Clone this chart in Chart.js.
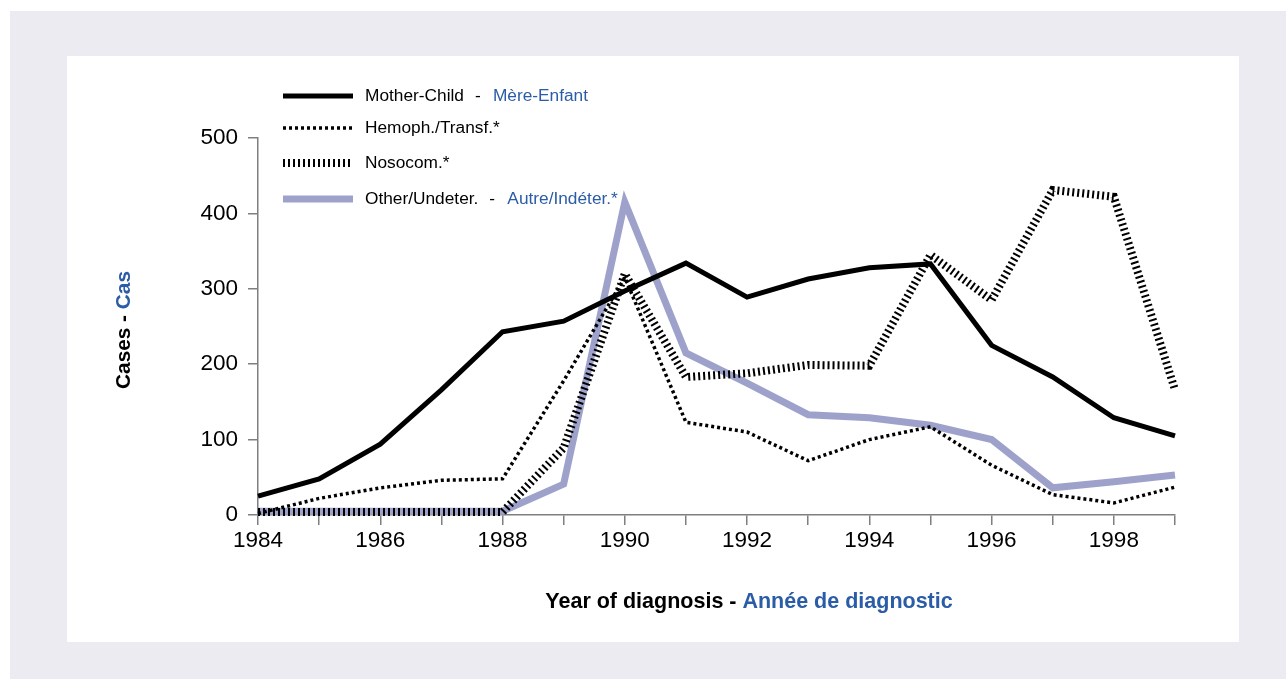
<!DOCTYPE html>
<html>
<head>
<meta charset="utf-8">
<script src="https://cdn.jsdelivr.net/npm/chart.js@4/dist/chart.umd.min.js"></script>
<style>
  body { margin: 0; background: #fff; overflow: hidden; }
  .frame { position: absolute; left: 10px; top: 11px; right: 0; bottom: 0; background: #ecebf1; }
  .panel { position: absolute; left: 67px; top: 56px; width: 1172px; height: 586px; background: #fff; }
  #chart { position: absolute; left: 0; top: 0; }
</style>
</head>
<body>
<div class="frame"></div>
<div class="panel"></div>
<canvas id="chart" width="1286" height="679"></canvas>
<script>
// Data
const years = ['1984','1985','1986','1987','1988','1989','1990','1991','1992','1993','1994','1995','1996','1997','1998','1999'];
const xTickLabels = ['1984','','1986','','1988','','1990','','1992','','1994','','1996','','1998',''];
const yTicks = [0, 100, 200, 300, 400, 500];

const motherChild = [25, 48, 94, 166, 243, 257, 297, 334, 289, 313, 328, 333, 225, 183, 129, 105];
const hemophTransf = [2, 22, 36, 46, 48, 178, 315, 123, 110, 72, 100, 117, 66, 27, 16, 37];
const nosocom = [4, 4, 4, 4, 4, 89, 320, 183, 188, 199, 198, 345, 285, 431, 422, 166];
const otherUndet = [5, 5, 5, 5, 5, 41, 415, 215, 175, 133, 129, 119, 100, 36, 44, 53];

const BLUE = '#2b5ca6';
const LAVENDER = '#9ea2cb';
const AXIS = '#7f7f7f';
const FONT = "'Liberation Sans', Arial, sans-serif";

// Legend entries: black text, blue text, line style
const legendItems = [
    { en: 'Mother-Child', fr: 'Mère-Enfant', color: '#000', width: 5, dash: [] },
    { en: 'Hemoph./Transf.*', fr: '', color: '#000', width: 3.5, dash: [3, 3] },
    { en: 'Nosocom.*', fr: '', color: '#000', width: 8, dash: [2, 3] },
    { en: 'Other/Undeter.', fr: 'Autre/Indéter.*', color: LAVENDER, width: 7, dash: [] }
];

const titlesPlugin = {
    id: 'titles',
    afterDraw(chart) {
        const ctx = chart.ctx;
        ctx.save();

        // legend
        const legendY = [96, 128, 163, 199];
        legendItems.forEach((it, i) => {
            const y = legendY[i];
            ctx.beginPath();
            ctx.strokeStyle = it.color;
            ctx.lineWidth = it.width;
            ctx.setLineDash(it.dash);
            ctx.lineCap = 'butt';
            ctx.moveTo(283, y);
            ctx.lineTo(353, y);
            ctx.stroke();
            ctx.setLineDash([]);

            ctx.font = '17.3px ' + FONT;
            ctx.textBaseline = 'middle';
            ctx.textAlign = 'left';
            ctx.fillStyle = '#000';
            ctx.fillText(it.en, 365, y);
            if (it.fr) {
                const end = 365 + ctx.measureText(it.en).width;
                ctx.fillText('-', end + 11, y);
                ctx.fillStyle = BLUE;
                ctx.fillText(it.fr, end + 29, y);
            }
        });

        // x title
        ctx.font = 'bold 21.5px ' + FONT;
        ctx.textBaseline = 'middle';
        const a = 'Year of diagnosis - ';
        const b = 'Année de diagnostic';
        const wa = ctx.measureText(a).width;
        const wb = ctx.measureText(b).width;
        let x0 = 749 - (wa + wb) / 2;
        ctx.textAlign = 'left';
        ctx.fillStyle = '#000';
        ctx.fillText(a, x0, 602);
        ctx.fillStyle = BLUE;
        ctx.fillText(b, x0 + wa, 602);

        // y title
        ctx.font = 'bold 20.8px ' + FONT;
        ctx.translate(124, 330);
        ctx.rotate(-Math.PI / 2);
        const c = 'Cases - ';
        const d = 'Cas';
        const wc = ctx.measureText(c).width;
        const wd = ctx.measureText(d).width;
        x0 = -(wc + wd) / 2;
        ctx.fillStyle = '#000';
        ctx.fillText(c, x0, 0);
        ctx.fillStyle = BLUE;
        ctx.fillText(d, x0 + wc, 0);

        ctx.restore();
    }
};

new Chart(document.getElementById('chart'), {
    type: 'line',
    data: {
        labels: years,
        datasets: [
            { label: 'Mother-Child', data: motherChild, borderColor: '#000', borderWidth: 5 },
            { label: 'Hemoph./Transf.*', data: hemophTransf, borderColor: '#000', borderWidth: 3.5, borderDash: [3, 3] },
            { label: 'Nosocom.*', data: nosocom, borderColor: '#000', borderWidth: 8, borderDash: [2, 3] },
            { label: 'Other/Undeter.', data: otherUndet, borderColor: LAVENDER, borderWidth: 7 }
        ]
    },
    options: {
        responsive: false,
        animation: false,
        devicePixelRatio: 1,
        clip: false,
        elements: {
            point: { radius: 0, hoverRadius: 0 },
            line: { tension: 0, borderJoinStyle: 'miter', borderCapStyle: 'butt' }
        },
        layout: { padding: { left: 198, right: 111, top: 138, bottom: 104 } },
        plugins: { legend: { display: false }, tooltip: { enabled: false } },
        scales: {
            x: {
                offset: false,
                grid: { drawOnChartArea: false, drawTicks: true, tickLength: 10, color: AXIS, lineWidth: 1.5 },
                border: { color: AXIS, width: 1.5 },
                ticks: {
                    autoSkip: false, maxRotation: 0, padding: 2, color: '#000',
                    font: { family: FONT, size: 22.5 },
                    callback: (v, i) => xTickLabels[i]
                },
                afterFit: s => { s.height = 60; }
            },
            y: {
                min: 0, max: 500,
                afterBuildTicks: s => { s.ticks = yTicks.map(v => ({ value: v })); },
                grid: { drawOnChartArea: false, drawTicks: true, tickLength: 10, color: AXIS, lineWidth: 1.5 },
                border: { color: AXIS, width: 1.5 },
                ticks: { padding: 10, color: '#000', font: { family: FONT, size: 22.5 } },
                afterFit: s => { s.width = 60; }
            }
        }
    },
    plugins: [titlesPlugin]
});
</script>
</body>
</html>
